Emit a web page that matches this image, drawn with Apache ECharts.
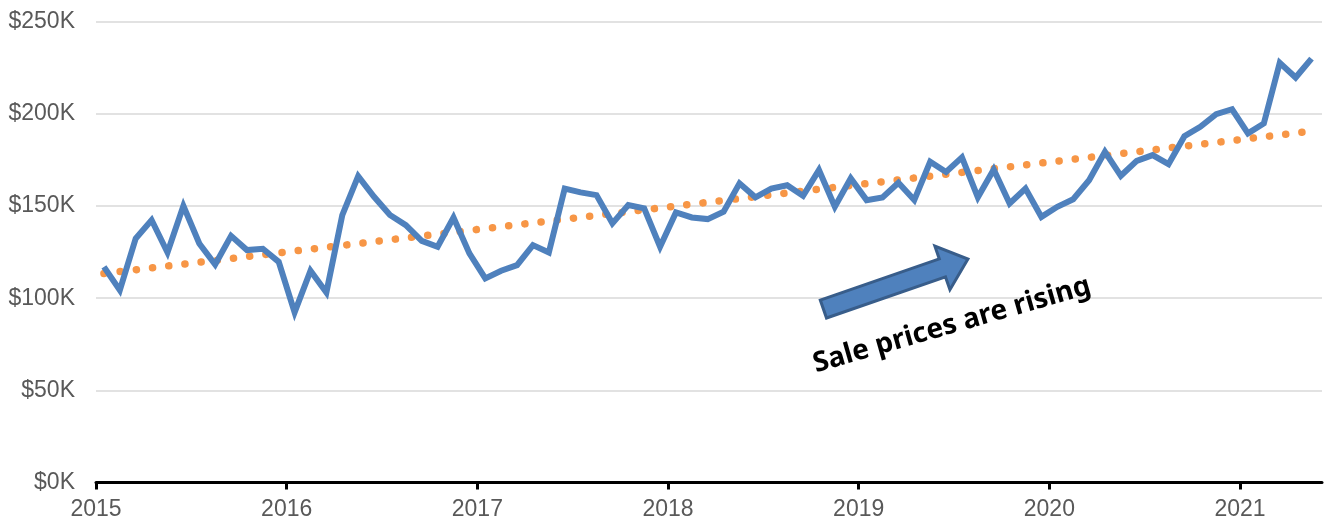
<!DOCTYPE html>
<html lang="en">
<head>
    <meta charset="UTF-8">
    <title>sale_prices_trend</title>
    <script src="https://cdn.jsdelivr.net/npm/echarts@6/dist/echarts.min.js"></script>
    <style>html, body { margin: 0; padding: 0; background: #fff; }</style>
</head>

<body>
    <div id="mainChart" style="width: 1327px; height: 523px;"></div>
    <script>
        const startYear = 2015
        const yearTicks = [2015, 2016, 2017, 2018, 2019, 2020, 2021]
        const priceTicks = [0, 50, 100, 150, 200, 250]

        // monthly sale price in $K, Jan 2015 .. May 2021
        const salePrices = [
            117.0, 104.4, 132.4, 142.4, 124.8, 150.1, 129.7, 118.3, 133.8, 126.1, 126.8, 119.7,
            92.3, 114.9, 103.1, 145.1, 166.2, 155.0, 145.1, 139.6, 131.1, 127.9, 143.8, 124.3,
            110.7, 114.9, 117.9, 128.8, 124.8, 159.5, 157.4, 155.9, 140.6, 150.5, 148.7, 127.9,
            146.5, 143.8, 142.9, 146.9, 162.3, 154.7, 159.5, 161.3, 155.5, 169.5, 149.6, 165.0,
            153.2, 154.7, 162.6, 153.2, 174.0, 168.5, 176.4, 154.7, 169.8, 151.4, 159.5, 144.1,
            149.6, 153.7, 164.0, 179.4, 166.4, 174.5, 177.6, 172.7, 187.9, 193.0, 199.8, 202.5,
            189.4, 194.8, 227.7, 219.7, 230.0
        ]
        // linear trend line end values, $K
        const trendStart = 113.4
        const trendEnd = 190.6

        const annotationText = 'Sale prices are rising'

        // each month sits in the middle of its month on a year scale
        const monthPos = salePrices.map((v, i) => startYear + (i + 0.5) / 12)
        const lastPos = monthPos[monthPos.length - 1]

        let chartsData = {
            animation: false,
            grid: {
                left: 96,
                right: 5,
                top: 21.7,
                bottom: 40.5
            },
            xAxis: {
                type: 'value',
                min: 2015,
                max: 2021.43,
                axisLine: {
                    show: true,
                    lineStyle: { color: '#000', width: 3 }
                },
                axisTick: {
                    show: true,
                    length: 7,
                    customValues: yearTicks,
                    lineStyle: { color: '#000', width: 3 }
                },
                axisLabel: {
                    customValues: yearTicks,
                    color: '#595959',
                    fontSize: 23,
                    fontFamily: 'Liberation Sans, Arial, sans-serif',
                    margin: 16,
                    formatter: v => String(v)
                },
                splitLine: { show: false }
            },
            yAxis: {
                type: 'value',
                min: priceTicks[0],
                max: priceTicks[priceTicks.length - 1],
                interval: 50,
                axisLine: { show: false },
                axisTick: { show: false },
                axisLabel: {
                    color: '#595959',
                    fontSize: 23,
                    fontFamily: 'Liberation Sans, Arial, sans-serif',
                    margin: 21,
                    formatter: v => '$' + v + 'K'
                },
                splitLine: {
                    lineStyle: { color: '#d9d9d9', width: 1.5 }
                }
            },
            series: [
                {
                    type: 'line',
                    name: 'Trend',
                    data: [[monthPos[0], trendStart], [lastPos, trendEnd]],
                    showSymbol: false,
                    z: 2,
                    lineStyle: {
                        color: '#f79646',
                        width: 7.5,
                        type: [0.1, 16.2],
                        cap: 'round'
                    }
                },
                {
                    type: 'line',
                    name: 'Sale price',
                    data: salePrices.map((v, i) => [monthPos[i], v]),
                    showSymbol: false,
                    z: 3,
                    lineStyle: {
                        color: '#4f81bd',
                        width: 6,
                        join: 'miter'
                    }
                }
            ]
        }

        let charts = echarts.init(document.querySelector('#mainChart'))
        charts.setOption(chartsData, true)

        // arrow and note anchored to data coordinates
        function placeNote() {
            let tail = charts.convertToPixel({ gridIndex: 0 }, [2018.815, 94.1])
            let tip = charts.convertToPixel({ gridIndex: 0 }, [2019.573, 121.2])
            let mid = charts.convertToPixel({ gridIndex: 0 }, [2019.489, 85.4])
            let dx = tip[0] - tail[0]
            let dy = tip[1] - tail[1]
            let len = Math.sqrt(dx * dx + dy * dy)
            let ang = Math.atan2(-dy, dx)
            let sw = 9.5, hw = 23, hl = 27
            charts.setOption({
                graphic: [
                    {
                        type: 'polygon',
                        x: tail[0],
                        y: tail[1],
                        rotation: ang,
                        z: 10,
                        shape: {
                            points: [[0, -sw], [len - hl, -sw], [len - hl, -hw], [len, 0],
                                [len - hl, hw], [len - hl, sw], [0, sw]]
                        },
                        style: { fill: '#4f81bd', stroke: '#385d8a', lineWidth: 3, lineJoin: 'miter' }
                    },
                    {
                        type: 'text',
                        x: mid[0],
                        y: mid[1],
                        rotation: 16 * Math.PI / 180,
                        z: 10,
                        style: {
                            text: annotationText,
                            fill: '#000',
                            font: 'bold 28px "Noto Sans", sans-serif',
                            align: 'center',
                            verticalAlign: 'middle'
                        }
                    }
                ]
            })
        }
        placeNote()

        window.addEventListener('resize', function () {
            charts.resize()
            placeNote()
        })
    </script>
</body>

</html>
